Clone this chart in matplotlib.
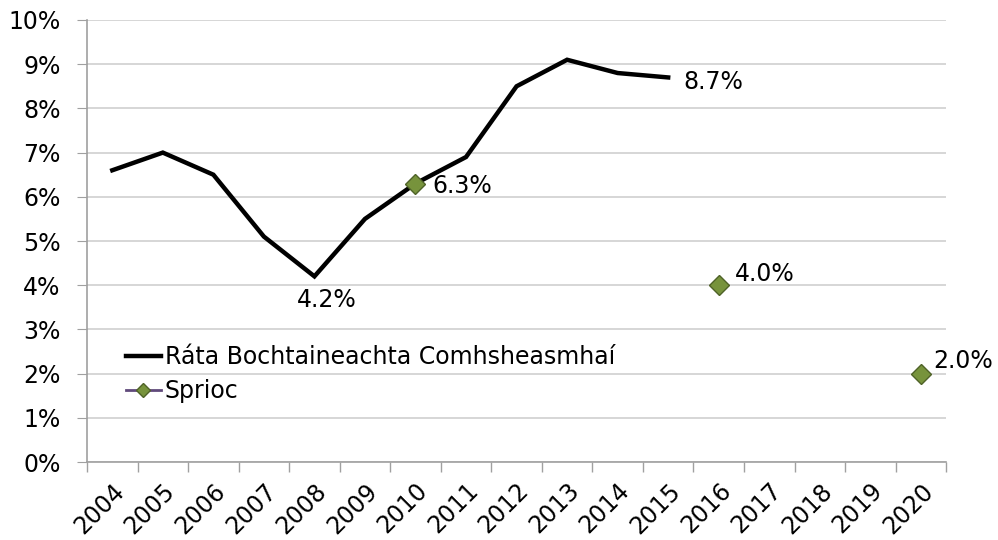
import numpy as np
import matplotlib.pyplot as plt
from matplotlib.ticker import FixedLocator, FuncFormatter
from matplotlib.lines import Line2D

# -----------------------------
# Data
# -----------------------------
years = [str(y) for y in range(2004, 2021)]
rate_years = years[:12]                      # 2004-2015
rate_values = [6.6, 7.0, 6.5, 5.1, 4.2, 5.5, 6.3, 6.9, 8.5, 9.1, 8.8, 8.7]
target_years = ["2010", "2016", "2020"]
target_values = [6.3, 4.0, 2.0]

rate_label = "Ráta Bochtaineachta Comhsheasmhaí"
target_label = "Sprioc"

# -----------------------------
# Figure
# -----------------------------
plt.rcParams['font.family'] = ['DejaVu Sans']
fig = plt.figure(figsize=(9.98, 5.4), dpi=100)
ax = fig.add_axes([0.0872, 0.1444, 0.8608, 0.8186])

x_all = np.arange(len(years))
x_rate = [years.index(y) for y in rate_years]
x_target = [years.index(y) for y in target_years]

ax.plot(x_rate, rate_values, color="black", lw=3.2, solid_joinstyle="miter",
        label=rate_label, zorder=3)
ax.plot(x_target, target_values, linestyle="none", marker="D", ms=10,
        markerfacecolor="#77933C", markeredgecolor="#4F6228", mew=1,
        label=target_label, zorder=4)

# legend: Sprioc shows a purple line with the diamond
fs = 17
handles = [
    Line2D([], [], color="black", lw=3.2),
    Line2D([], [], color="#604A7B", lw=2, marker="D", ms=7,
           markerfacecolor="#77933C", markeredgecolor="#4F6228"),
]
leg = ax.legend(handles, [rate_label, target_label], loc="upper left",
                bbox_to_anchor=(0.045, 0.264), frameon=False, fontsize=fs,
                handlelength=1.5, handletextpad=0.15, labelspacing=0.4,
                borderaxespad=0, borderpad=0)

# data labels
ax.annotate("8.7%", (x_rate[-1], rate_values[-1]), xytext=(11, -3),
            textcoords="offset points", fontsize=fs, va="center", ha="left")
ax.annotate("6.3%", (x_target[0], target_values[0]), xytext=(12, -2),
            textcoords="offset points", fontsize=fs, va="center", ha="left")
ax.annotate("4.2%", (x_rate[4], rate_values[4]), xytext=(9, -17),
            textcoords="offset points", fontsize=fs, va="center", ha="center")
ax.annotate("4.0%", (x_target[1], target_values[1]), xytext=(12, 8),
            textcoords="offset points", fontsize=fs, va="center", ha="left")
ax.annotate("2.0%", (x_target[2], target_values[2]), xytext=(9, 9),
            textcoords="offset points", fontsize=fs, va="center", ha="left")

# axes
ax.set_xlim(-0.5, len(years) - 0.5)
ax.set_ylim(0, 10)
ax.set_yticks(np.arange(0, 11, 1))
ax.yaxis.set_major_formatter(FuncFormatter(lambda v, p: f"{int(v)}%"))
ax.yaxis.grid(True, color="#D0D0D0", lw=1.2)
ax.set_axisbelow(True)

ax.set_xticks(x_all)
ax.set_xticklabels(years, rotation=45, ha="right", rotation_mode="anchor",
                   fontsize=fs)
ax.xaxis.set_minor_locator(FixedLocator(np.arange(-0.5, len(years), 1)))
ax.tick_params(axis="x", which="major", length=0, pad=12)
ax.tick_params(axis="x", which="minor", length=7, color="#A0A0A0", width=1)
ax.tick_params(axis="y", length=7, color="#A0A0A0", labelsize=fs, pad=12)

for side in ["top", "right"]:
    ax.spines[side].set_visible(False)
for side in ["left", "bottom"]:
    ax.spines[side].set_color("#A0A0A0")
    ax.spines[side].set_linewidth(1.2)

fig.savefig("out.png", dpi=100)
